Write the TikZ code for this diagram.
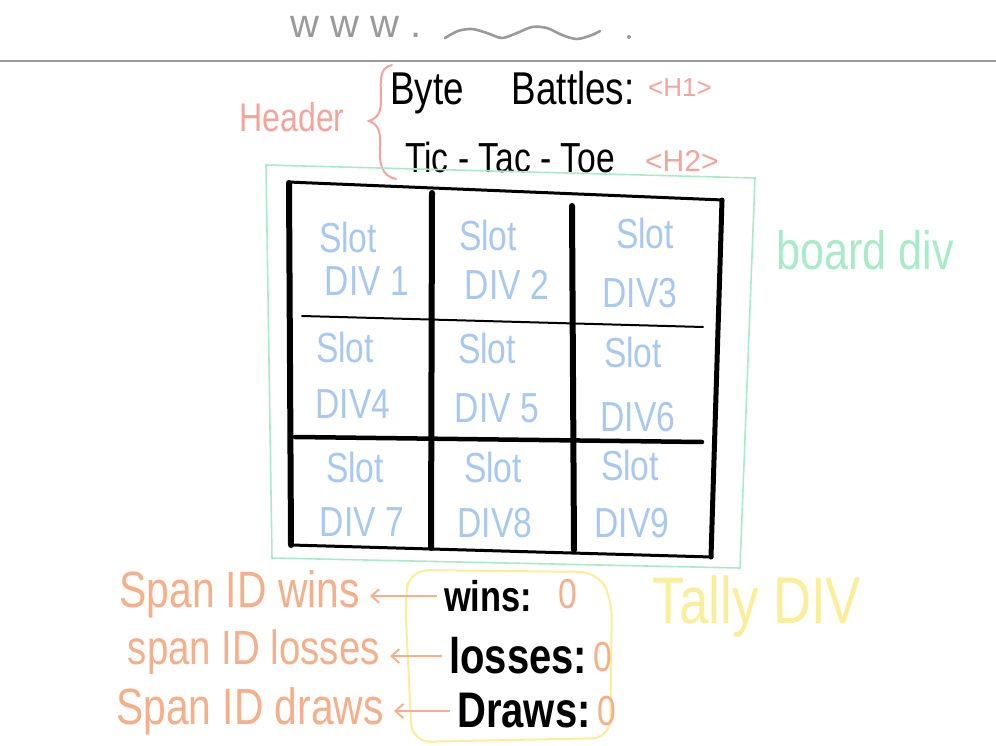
\documentclass[tikz,border=0pt]{standalone}
\usepackage{fontspec}
\setmainfont{Liberation Sans}
\newfontfamily\handfont[FakeStretch=0.8]{Liberation Sans}
\usetikzlibrary{arrows.meta}
\definecolor{salmon}{HTML}{F3A59D}
\definecolor{mint}{HTML}{A9EBC8}
\definecolor{slotblue}{HTML}{A8C8F0}
\definecolor{orng}{HTML}{F5AF8A}
\definecolor{ylw}{HTML}{FBEE9B}
\definecolor{urlgray}{HTML}{9A9A9A}
\tikzset{
  fs/.style={font=\handfont\fontsize{#1}{#1}\selectfont},
  fsplain/.style={font=\fontsize{#1}{#1}\selectfont},
  fsbold/.style={font=\handfont\bfseries\fontsize{#1}{#1}\selectfont},
  slottxt/.style={text=slotblue, fs=42, inner sep=1pt},
  spantxt/.style={text=orng, inner sep=2pt, anchor=east},
  tallytxt/.style={text=black, inner sep=2pt, anchor=west},
  zerotxt/.style={text=orng, fs=42, inner sep=2pt, anchor=west},
  gridline/.style={line cap=round, draw=black},
  spanarrow/.style={draw=orng, line width=1.8pt, -{Straight Barb[length=8pt,width=14pt]}, shorten >=8pt, shorten <=5pt},
}
\begin{document}
\begin{tikzpicture}[x=1pt,y=-1pt]
\useasboundingbox[fill=white] (0,0) rectangle (996,746);

% browser bar
\node[text=urlgray, fsplain=40, inner sep=0pt] (www) at (356,27) {w w w .};
\draw[urlgray, line width=2.6pt, line cap=round] plot[smooth] coordinates {(445,38) (458,31) (472,29) (487,33) (502,38) (517,33) (532,27) (547,28) (562,35) (577,39) (592,35) (600,31)};
\fill[urlgray] (629,37) circle (2);
\draw[urlgray, line width=1.2pt] (0,61) -- (996,61);

% header
\node[text=salmon, fs=40, inner sep=0pt] (header) at (292,117) {Header};
\draw[salmon, line width=2pt, line cap=round]
  (392,65) .. controls (378,68) and (381,82) .. (381,100)
  .. controls (381,112) and (378,118) .. (369,121)
  .. controls (378,124) and (381,132) .. (380,146)
  .. controls (379,165) and (382,176) .. (396,179);
\node[fs=46, inner sep=0pt, anchor=west] (h1) at (390,93) {Byte\hspace{48pt}Battles:};
\node[text=salmon, fsplain=26, inner sep=0pt, anchor=west] (h1tag) at (648,88) {<H1>};
\node[fs=42, inner sep=0pt, anchor=west] (h2) at (405,157) {Tic - Tac - Toe};
\node[text=salmon, fsplain=30, inner sep=0pt, anchor=west] (h2tag) at (645,161) {<H2>};

% board div
\draw[mint, line width=1.6pt] (266,165) -- (755,178) -- (740,568) -- (272,558) -- cycle;
\node[text=mint, fs=54, inner sep=0pt] (boarddiv) at (865,250) {board div};

% grid
\draw[gridline, line width=3pt] (288,182) -- (723,200);
\draw[gridline, line width=6pt] (289,183) -- (291,545);
\draw[gridline, line width=5pt] (722,200) -- (711,557);
\draw[gridline, line width=3pt] (291,545) -- (712,557);
\draw[gridline, line width=6pt] (432,193) -- (431,548);
\draw[gridline, line width=6pt] (572,206) -- (574,550);
\draw[gridline, line width=2pt] (302,316) -- (703,327);
\draw[gridline, line width=4.5pt] (295,437) -- (702,442);

% slots
\node[slottxt] (s1) at (348,237) {Slot};
\node[slottxt] (d1) at (367,281) {DIV 1};
\node[slottxt] (s2) at (488,235) {Slot};
\node[slottxt] (d2) at (507,285) {DIV 2};
\node[slottxt] (s3) at (645,233) {Slot};
\node[slottxt] (d3) at (640,293) {DIV3};
\node[slottxt] (s4) at (345,347) {Slot};
\node[slottxt] (d4) at (353,404) {DIV4};
\node[slottxt] (s5) at (487,348) {Slot};
\node[slottxt] (d5) at (497,408) {DIV 5};
\node[slottxt] (s6) at (633,352) {Slot};
\node[slottxt] (d6) at (638,417) {DIV6};
\node[slottxt] (s7) at (355,467) {Slot};
\node[slottxt] (d7) at (362,522) {DIV 7};
\node[slottxt] (s8) at (493,467) {Slot};
\node[slottxt] (d8) at (495,523) {DIV8};
\node[slottxt] (s9) at (630,465) {Slot};
\node[slottxt] (d9) at (632,523) {DIV9};

% tally div
\draw[ylw, line width=2pt, rounded corners=18pt] (410,570) -- (598,572) -- (612,600) -- (610,738) -- (412,742) -- (405,600) -- cycle;
\node[text=ylw, fs=66, inner sep=0pt] (tally) at (757,606) {Tally DIV};

\node[tallytxt, fsbold=43] (wins) at (442,596) {wins:};
\node[zerotxt] (winsv) at (556,594) {0};
\node[tallytxt, fsbold=50] (losses) at (447,656) {losses:};
\node[zerotxt] (lossesv) at (591,657) {0};
\node[tallytxt, fsbold=50] (draws) at (455,711) {Draws:};
\node[zerotxt] (drawsv) at (595,711) {0};

\node[spantxt, fs=51] (spanwins) at (362,594) {Span ID wins};
\node[spantxt, fs=48] (spanlosses) at (382,652) {span ID losses};
\node[spantxt, fs=51] (spandraws) at (386,711) {Span ID draws};

\draw[spanarrow] (wins.west) -- (spanwins.east |- wins.west);
\draw[spanarrow] (losses.west) -- (spanlosses.east |- losses.west);
\draw[spanarrow] (draws.west) -- (spandraws.east |- draws.west);
\end{tikzpicture}
\end{document}
